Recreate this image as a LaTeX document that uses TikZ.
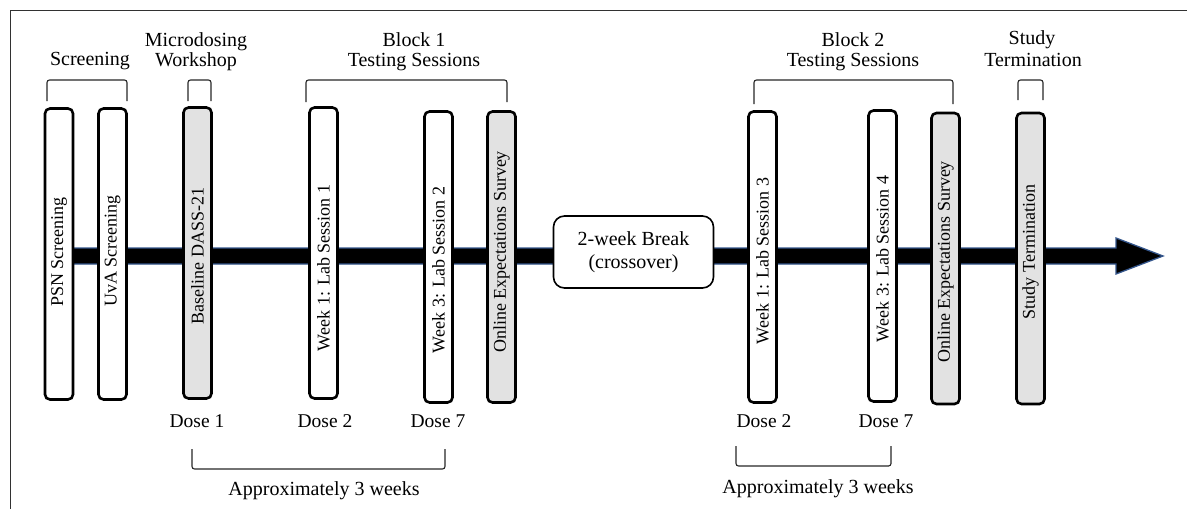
\documentclass[tikz,border=0pt]{standalone}
\usepackage{fontspec}
\setmainfont{Liberation Serif}
\definecolor{boxgray}{RGB}{226,226,226}
\definecolor{shaftblue}{RGB}{52,86,140}
\definecolor{framegray}{RGB}{50,50,50}
\begin{document}
\begin{tikzpicture}[x=1pt,y=-1pt,
  vbox/.style={draw=black,line width=2.6pt,rounded corners=5pt,fill=white,
    minimum width=28pt,minimum height=291pt,inner sep=0pt},
  gbox/.style={vbox,fill=boxgray},
  vtext/.style={rotate=90,inner sep=0pt,font=\fontsize{18}{20}\selectfont},
  lbl/.style={align=center,inner sep=0pt,font=\fontsize{20}{20.5}\selectfont},
  dose/.style={inner sep=0pt,font=\fontsize{19.5}{22}\selectfont,anchor=base},
  brk/.style={draw=black!85,line width=1.1pt,rounded corners=2.5pt}
]
\useasboundingbox (0,0) rectangle (1187,509);
% frame
\draw[framegray,line width=1.3pt] (10.5,509) -- (10.5,10.5) -- (1187,10.5);
% timeline arrow
\draw[shaftblue,line width=1.3pt,fill=black]
  (59,248) -- (1116,248) -- (1116,238) -- (1163,256) -- (1116,274)
  -- (1116,264) -- (59,264) -- cycle;
% boxes
\node[vbox] (psn) at (59,254) {};
\node[vbox] (uva) at (112.5,254) {};
\node[gbox] (dass) at (197.5,253) {};
\node[vbox] (ls1) at (323.5,253) {};
\node[vbox] (ls2) at (438.5,257) {};
\node[gbox] (oes1) at (501.5,257) {};
\node[vbox] (ls3) at (762.5,257) {};
\node[vbox] (ls4) at (882.5,256) {};
\node[gbox] (oes2) at (945.5,258.5) {};
\node[gbox] (term) at (1030.5,258.5) {};
% box texts
\node[vtext] (tpsn) at (59,252) {PSN Screening};
\node[vtext] (tuva) at (112.5,251) {UvA Screening};
\node[vtext] (tdass) at (197.5,256) {Baseline DASS-21};
\node[vtext] (tls1) at (323.5,268) {Week 1: Lab Session 1};
\node[vtext] (tls2) at (438.5,270) {Week 3: Lab Session 2};
\node[vtext] (toes1) at (501.5,252) {Online Expectations Survey};
\node[vtext] (tls3) at (762.5,261) {Week 1: Lab Session 3};
\node[vtext] (tls4) at (882.5,259) {Week 3: Lab Session 4};
\node[vtext] (toes2) at (945.5,262) {Online Expectations Survey};
\node[vtext] (tterm) at (1030.5,252) {Study Termination};
% break box
\node[draw=black,line width=1.6pt,rounded corners=11pt,fill=white,
  minimum width=160pt,minimum height=72pt,inner sep=0pt,lbl,
  font=\fontsize{20}{23}\selectfont] (break) at (633.5,252) {2-week Break\\(crossover)};
% top labels
\node[lbl,anchor=base] (lscr) at (90,65) {Screening};
\node[lbl,anchor=base] (lwork) at (196,66) {Workshop};
\node[lbl,anchor=base] (lmicro) at (196,46) {Microdosing};
\node[lbl,anchor=base] (lb1a) at (414,46) {Block 1};
\node[lbl,anchor=base] (lb1b) at (414,66) {Testing Sessions};
\node[lbl,anchor=base] (lb2a) at (853,46) {Block 2};
\node[lbl,anchor=base] (lb2b) at (853,66) {Testing Sessions};
\node[lbl,anchor=base] (lsta) at (1032,44) {Study};
\node[lbl,anchor=base] (lstb) at (1033,66) {Termination};
% top brackets
\draw[brk] (47,101) -- (47,80) -- (127,80) -- (127,101);
\draw[brk] (188,101) -- (188,80) -- (211,80) -- (211,101);
\draw[brk] (306,102) -- (306,80) -- (507,80) -- (507,102);
\draw[brk] (754,104) -- (754,80) -- (953,80) -- (953,104);
\draw[brk] (1018,100) -- (1018,80) -- (1043,80) -- (1043,100);
% dose labels
\node[dose] (d1) at (197,427) {Dose 1};
\node[dose] (d2) at (325,427) {Dose 2};
\node[dose] (d7) at (438,427) {Dose 7};
\node[dose] (d2b) at (764,427) {Dose 2};
\node[dose] (d7b) at (886,427) {Dose 7};
% bottom brackets
\draw[brk] (192,449) -- (192,469) -- (445,469) -- (445,449);
\draw[brk] (736,446) -- (736,466) -- (891,466) -- (891,446);
\node[lbl,anchor=base] (ap1) at (324,495) {Approximately 3 weeks};
\node[lbl,anchor=base] (ap2) at (818,493) {Approximately 3 weeks};
\end{tikzpicture}
\end{document}
